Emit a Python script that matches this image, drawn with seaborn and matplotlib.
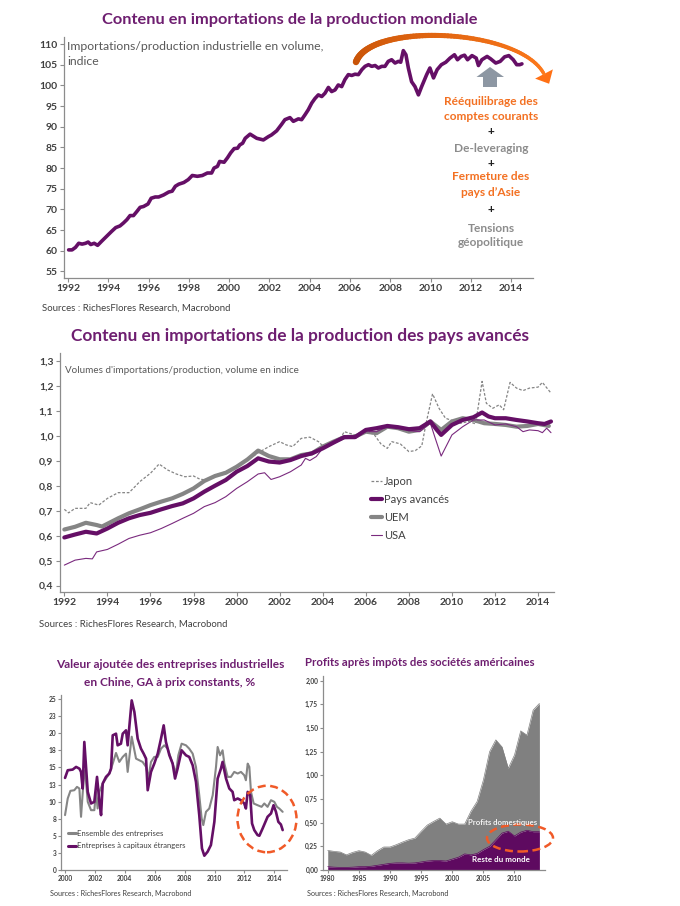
import numpy as np
import pandas as pd
import matplotlib
matplotlib.use("Agg")
import matplotlib.pyplot as plt
import seaborn as sns
from matplotlib.collections import LineCollection
from matplotlib.patches import Polygon, Ellipse
from matplotlib.lines import Line2D
from matplotlib.colors import to_rgb

# ---------------- DATA ----------------
# Panel 1 : import content of world production (index)
world_t = [1992.03,1992.2,1992.37,1992.53,1992.7,1992.87,1993.0,1993.13,1993.3,1993.47,1993.67,1993.92,
           1994.17,1994.37,1994.58,1994.75,1994.92,1995.08,1995.25,1995.42,1995.58,1995.75,1995.97,
           1996.13,1996.33,1996.5,1996.75,1997.0,1997.17,1997.33,1997.5,1997.75,1997.97,1998.17,1998.42,
           1998.67,1998.92,1999.13,1999.25,1999.42,1999.53,1999.75,1999.92,2000.08,2000.25,2000.42,2000.53,
           2000.67,2000.8,
           2001.04,2001.37,2001.7,2001.95,2002.1,2002.36,2002.61,2002.77,2003.02,2003.19,2003.44,2003.6,
           2003.77,2003.93,2004.1,2004.26,2004.43,2004.6,2004.76,2004.93,2005.09,2005.26,2005.42,2005.59,
           2005.75,2005.92,2006.09,2006.25,2006.42,2006.59,2006.75,2006.92,2007.08,2007.25,2007.41,2007.58,
           2007.74,2007.9,2008.07,2008.24,2008.4,2008.52,2008.65,2008.78,2008.9,2009.06,2009.23,2009.4,
           2009.56,2009.81,2009.97,
           2010.15,2010.33,2010.54,2010.76,2010.97,2011.19,2011.34,2011.52,2011.69,2011.84,2012.06,2012.27,
           2012.38,2012.55,2012.81,2012.99,2013.24,2013.46,2013.68,2013.89,2014.11,2014.28,2014.43,2014.54]
world_v = [60.2,60.2,60.8,61.8,61.6,61.8,62.1,61.5,61.8,61.3,62.3,63.5,
           64.7,65.6,66.0,66.7,67.5,68.5,68.5,69.5,70.5,70.7,71.3,
           72.7,73.0,73.0,73.5,74.2,74.4,75.6,76.1,76.5,77.2,78.2,78.0,
           78.2,78.8,78.8,80.0,80.4,81.6,81.4,82.5,83.7,84.7,84.8,85.6,
           86.0,87.2,
           88.2,87.2,86.8,87.6,88.0,89.0,90.6,91.7,92.2,91.3,91.9,91.7,
           92.9,94.1,95.7,96.8,97.7,97.3,98.1,99.5,98.5,98.9,100.1,99.7,
           101.4,102.6,102.4,102.7,102.6,103.8,104.6,105.0,104.6,104.8,104.2,104.6,
           104.6,105.8,106.2,105.4,105.8,105.6,108.4,107.4,104.2,100.9,99.7,97.7,
           99.7,102.6,104.2,
           101.8,103.8,105.0,105.6,106.6,107.4,106.2,107.0,107.3,106.2,107.2,106.6,
           104.8,106.2,107.0,106.4,105.4,105.8,106.9,107.2,106.2,105.0,105.0,105.2]
world_xticks = list(range(1992, 2015, 2))
world_yticks = list(range(55, 111, 5))

# Panel 2 : advanced countries
avances_t = [1992.0,1992.5,1993.0,1993.5,1994.0,1994.5,1995.0,1995.5,1996.0,1996.5,1997.0,1997.5,1998.0,
             1998.5,1999.0,1999.5,2000.0,2000.5,2001.0,2001.5,2002.0,2002.5,2003.0,2003.5,2004.0,2004.5,
             2005.0,2005.5,2006.0,2006.5,2007.0,2007.5,2008.0,2008.5,2009.0,2009.3,2009.5,2010.0,2010.5,
             2011.0,2011.4,2011.7,2012.0,2012.5,2013.0,2013.5,2014.0,2014.3,2014.6]
avances_v = [0.593,0.605,0.616,0.609,0.629,0.652,0.670,0.683,0.692,0.706,0.719,0.730,0.750,
             0.777,0.801,0.824,0.857,0.880,0.911,0.898,0.894,0.904,0.920,0.931,0.951,0.974,
             0.996,0.996,1.025,1.032,1.041,1.036,1.028,1.032,1.059,1.025,1.005,1.045,1.065,
             1.076,1.095,1.079,1.072,1.072,1.065,1.059,1.052,1.049,1.059]
uem_t = [1992.0,1992.5,1993.0,1993.5,1993.75,1994.0,1994.5,1995.0,1995.5,1996.0,1996.5,1997.0,1997.5,
         1998.0,1998.5,1999.0,1999.5,2000.0,2000.5,2001.0,2001.5,2002.0,2002.5,2003.0,2003.5,2004.0,
         2004.5,2005.0,2005.5,2006.0,2006.5,2007.0,2007.5,2008.0,2008.5,2009.0,2009.5,2010.0,2010.5,
         2011.0,2011.5,2012.0,2012.5,2013.0,2013.5,2014.0,2014.5]
uem_v = [0.625,0.636,0.652,0.643,0.637,0.648,0.670,0.690,0.706,0.723,0.737,0.750,0.768,
         0.790,0.820,0.840,0.853,0.877,0.906,0.942,0.920,0.907,0.907,0.924,0.931,0.958,
         0.978,0.996,0.998,1.018,1.012,1.038,1.032,1.018,1.025,1.059,1.025,1.059,1.072,
         1.065,1.052,1.049,1.045,1.038,1.041,1.049,1.041]
usa_t = [1992.0,1992.5,1993.0,1993.3,1993.5,1994.0,1994.5,1995.0,1995.5,1996.0,1996.5,1997.0,1997.5,
         1998.0,1998.5,1999.0,1999.5,2000.0,2000.5,2001.0,2001.3,2001.6,2002.0,2002.5,2003.0,2003.2,
         2003.4,2003.7,2004.0,2004.5,2005.0,2005.5,2006.0,2006.5,2007.0,2007.5,2008.0,2008.5,2009.0,
         2009.2,2009.5,2009.8,2010.0,2010.5,2011.0,2011.5,2012.0,2012.5,2013.0,2013.3,2013.6,2014.0,
         2014.2,2014.4,2014.6]
usa_v = [0.482,0.502,0.509,0.507,0.535,0.545,0.566,0.589,0.602,0.612,0.629,0.649,0.670,
         0.690,0.717,0.733,0.757,0.790,0.817,0.848,0.853,0.826,0.837,0.857,0.884,0.911,
         0.902,0.918,0.951,0.974,0.996,0.998,1.018,1.018,1.038,1.038,1.022,1.018,1.052,
         0.998,0.920,0.971,1.005,1.038,1.065,1.065,1.045,1.049,1.038,1.018,1.025,1.022,
         1.014,1.032,1.014]
japon_t = [1992.0,1992.2,1992.5,1993.0,1993.2,1993.6,1994.0,1994.5,1995.0,1995.2,1995.5,1996.0,1996.4,
           1996.8,1997.2,1997.6,1998.0,1998.3,1998.6,1999.0,1999.5,2000.0,2000.5,2001.0,2001.5,2002.0,
           2002.3,2002.6,2003.0,2003.4,2003.8,2004.0,2004.4,2004.8,2005.0,2005.5,2006.0,2006.4,2006.7,
           2007.0,2007.2,2007.6,2008.0,2008.3,2008.6,2008.8,2009.1,2009.4,2009.7,2010.0,2010.4,2010.8,
           2011.1,2011.4,2011.6,2011.9,2012.2,2012.4,2012.7,2013.0,2013.3,2013.6,2014.0,2014.2,2014.6]
japon_v = [0.706,0.692,0.710,0.710,0.733,0.723,0.750,0.773,0.773,0.790,0.817,0.851,0.888,
           0.864,0.848,0.837,0.840,0.827,0.824,0.844,0.857,0.877,0.904,0.933,0.958,0.978,
           0.965,0.958,0.991,0.996,0.978,0.961,0.971,0.987,1.018,1.005,1.022,1.005,0.969,
           0.951,0.978,0.969,0.938,0.942,0.961,1.052,1.170,1.112,1.072,1.063,1.052,1.059,
           1.049,1.220,1.132,1.112,1.126,1.106,1.216,1.193,1.183,1.193,1.197,1.216,1.173]
adv_yticks = [0.4,0.5,0.6,0.7,0.8,0.9,1.0,1.1,1.2,1.3]

# Panel 3 : China industrial value added, % y/y
etr_t = [2000.00,2000.18,2000.51,2000.74,2000.96,2001.07,2001.18,2001.29,2001.52,2001.74,2001.96,2002.14,
         2002.30,2002.41,2002.52,2002.74,2002.96,2003.08,2003.19,2003.41,2003.52,2003.74,2003.86,2004.08,
         2004.19,2004.46,2004.64,2004.86,2005.08,2005.26,2005.42,2005.53,2005.75,2005.97,2006.20,2006.42,
         2006.60,2006.75,2006.98,2007.20,2007.36,2007.53,2007.80,2008.09,2008.31,2008.54,2008.76,2008.98,
         2009.16,2009.32,2009.54,2009.76,2009.99,2010.21,2010.43,2010.54,2010.77,2010.99,2011.21,2011.32,
         2011.55,2011.77,2011.99,2012.10,2012.22,2012.39,2012.51,2012.66,2012.88,2013.00,2013.22,2013.55,
         2013.78,2013.95,2014.11,2014.27,2014.44,2014.56]
etr_v = [13.47,14.59,14.69,15.08,14.83,14.35,11.92,18.73,11.43,9.73,9.97,13.62,
         9.97,8.03,12.65,13.62,14.11,14.83,19.70,19.94,18.24,18.48,19.94,20.43,
         18.24,24.81,23.10,19.21,17.75,17.02,16.29,11.67,14.35,15.56,17.02,19.21,
         21.16,18.73,16.78,15.56,13.38,14.83,17.51,16.78,16.54,15.32,12.89,8.03,
         3.16,2.09,2.68,3.65,7.05,13.38,14.83,15.81,13.38,11.92,11.43,10.21,
         10.46,10.21,9.73,9.00,11.43,10.94,6.81,5.84,5.11,5.01,6.08,7.78,
         8.27,9.48,8.51,7.05,6.66,5.84]
ens_t = [2000.00,2000.18,2000.36,2000.62,2000.80,2000.96,2001.07,2001.25,2001.34,2001.52,2001.74,2001.96,
         2002.07,2002.18,2002.30,2002.52,2002.74,2002.96,2003.19,2003.41,2003.63,2003.86,2004.08,2004.19,
         2004.46,2004.75,2004.97,2005.19,2005.42,2005.57,2005.75,2005.97,2006.20,2006.42,2006.64,2006.87,
         2007.09,2007.31,2007.42,2007.58,2007.80,2008.09,2008.31,2008.54,2008.76,2008.98,2009.14,2009.25,
         2009.43,2009.65,2009.88,2010.10,2010.21,2010.37,2010.54,2010.66,2010.88,2011.10,2011.32,2011.55,
         2011.77,2011.99,2012.10,2012.22,2012.33,2012.44,2012.62,2012.88,2013.15,2013.33,2013.55,2013.78,
         2014.00,2014.18,2014.33,2014.56]
ens_v = [8.03,10.46,11.58,11.67,12.16,11.92,7.78,13.38,14.59,9.97,8.75,8.75,
         11.43,9.00,11.43,12.65,13.38,14.11,15.56,17.12,15.81,16.54,17.02,14.35,
         19.50,16.29,16.05,15.81,15.08,13.38,15.81,16.54,16.54,17.75,18.24,17.75,
         16.29,14.83,14.11,16.78,18.48,18.24,17.75,17.02,15.08,10.94,7.54,6.57,
         8.51,9.00,10.94,15.08,18.00,16.78,17.51,15.56,13.62,13.62,14.35,14.11,
         14.35,13.86,13.13,15.56,15.08,11.43,9.73,9.48,9.24,9.73,9.24,10.21,
         9.97,9.24,9.00,8.51]
china_xticks = list(range(2000, 2015, 2))
china_yticks = [0, 2.5, 5, 7.5, 10, 12.5, 15, 17.5, 20, 22.5, 25]
china_ylabels = ["0", "3", "5", "8", "10", "13", "15", "18", "20", "23", "25"]

# Panel 4 : US corporate profits after tax
profit_years = list(range(1980, 2015))
profits_totaux = [0.207,0.197,0.19,0.16,0.186,0.204,0.19,0.155,0.204,0.243,0.243,0.267,0.295,0.32,0.337,
                  0.408,0.475,0.513,0.548,0.485,0.51,0.485,0.485,0.62,0.724,0.95,1.25,1.375,1.30,1.075,
                  1.215,1.47,1.425,1.69,1.76]
reste_du_monde = [0.035,0.03,0.027,0.027,0.03,0.035,0.035,0.04,0.05,0.06,0.07,0.075,0.075,0.072,0.075,
                  0.085,0.095,0.10,0.10,0.095,0.115,0.135,0.17,0.16,0.175,0.215,0.25,0.32,0.39,0.41,
                  0.36,0.40,0.42,0.405,0.405]
profit_xticks = list(range(1980, 2011, 5))
profit_yticks = [0.0, 0.25, 0.5, 0.75, 1.0, 1.25, 1.5, 1.75, 2.0]

# ---------------- STYLE ----------------
sns.set_theme(style="white")
plt.rcParams["font.family"] = ["Lato", "DejaVu Sans"]

PURPLE = "#650F66"
TITLE = "#6E1E70"
GRAY = "#858585"
TXT = "#404040"
ORANGE_T = "#F37021"
RED_DASH = "#F05A28"

W, H = 680, 906
fig = plt.figure(figsize=(6.8, 9.06), dpi=100)
fig.patch.set_facecolor("white")


def fx(x):
    return x / W


def fy(y):
    return 1 - y / H


def add_ax(l, t, r, b):
    return fig.add_axes([fx(l), fy(b), (r - l) / W, (b - t) / H])


def style_ax(ax, size, xt, xl, yt, yl):
    sns.despine(ax=ax)
    for s in ["left", "bottom"]:
        ax.spines[s].set_color("#8C8C8C")
        ax.spines[s].set_linewidth(0.9)
    ax.set_facecolor("none")
    ax.grid(False)
    ax.set_xlabel("")
    ax.set_ylabel("")
    ax.set_xticks(xt)
    ax.set_xticklabels(xl, fontweight="bold")
    ax.set_yticks(yt)
    ax.set_yticklabels(yl, fontweight="bold")
    ax.tick_params(axis="both", which="both", direction="out", length=3, width=0.8,
                   color="#8C8C8C", labelsize=size, labelcolor=TXT, pad=1.5,
                   left=True, bottom=True)


def ftext(x, y, s, **kw):
    fig.text(fx(x), fy(y), s, **kw)


# ---------------- PANEL 1 ----------------
ax1 = add_ax(64, 37, 533, 278)
sns.lineplot(x=world_t, y=world_v, ax=ax1, color=PURPLE, linewidth=2.6)
ax1.set_xlim(1991.8, 2015.09)
ax1.set_ylim(53.4, 111.7)
style_ax(ax1, 7.5, world_xticks, [str(v) for v in world_xticks],
         world_yticks, [str(v) for v in world_yticks])

ftext(290, 20, "Contenu en importations de la production mondiale", ha="center", va="center",
      fontsize=11.8, fontweight="bold", color=TITLE)
ftext(67, 46.5, "Importations/production industrielle en volume,", ha="left", va="center",
      fontsize=8.8, color="#595959")
ftext(67, 61.5, "indice", ha="left", va="center", fontsize=8.8, color="#595959")
ftext(42, 308, "Sources : RichesFlores Research, Macrobond", ha="left", va="center",
      fontsize=6.9, color=TXT)

ann = [("Rééquilibrage des", 101.7, ORANGE_T, "bold"),
       ("comptes courants", 117, ORANGE_T, "bold"),
       ("+", 131, "#202020", "bold"),
       ("De-leveraging", 148, "#8C8C8C", "bold"),
       ("+", 163, "#202020", "bold"),
       ("Fermeture des", 176, ORANGE_T, "bold"),
       ("pays d\u2019Asie", 192, ORANGE_T, "bold"),
       ("+", 209, "#202020", "bold"),
       ("Tensions", 228, "#8C8C8C", "bold"),
       ("géopolitique", 243, "#8C8C8C", "bold")]
for s, y, c, w in ann:
    ftext(491, y, s, ha="center", va="center", fontsize=8.6, color=c, fontweight=w)

# gray up arrow
garrow = [(490, 67), (504, 77), (497, 77), (497, 87), (483, 87), (483, 77), (476.5, 77)]
fig.add_artist(Polygon([(fx(a), fy(b)) for a, b in garrow], closed=True,
                       transform=fig.transFigure, facecolor="#8D97A3", edgecolor="none"))

# orange curved arrow (cubic bezier)
P = np.array([[356, 62], [370, 22], [520, 28], [544, 74]], dtype=float)
ts = np.linspace(0, 1, 80)
pts = ((1 - ts) ** 3)[:, None] * P[0] + (3 * (1 - ts) ** 2 * ts)[:, None] * P[1] + \
      (3 * (1 - ts) * ts ** 2)[:, None] * P[2] + (ts ** 3)[:, None] * P[3]
segs = [[(fx(pts[i, 0]), fy(pts[i, 1])), (fx(pts[i + 1, 0]), fy(pts[i + 1, 1]))] for i in range(len(pts) - 1)]
c0, c1 = np.array(to_rgb("#C85408")), np.array(to_rgb("#FF7A1C"))
cols = [tuple(c0 + (c1 - c0) * t) for t in ts[:-1]]
lws = [(6.5 - 3.2 * t) * 0.72 for t in ts[:-1]]
lc = LineCollection(segs, colors=cols, linewidths=lws, transform=fig.transFigure, capstyle="round")
fig.add_artist(lc)
d = P[3] - P[2]
d = d / np.linalg.norm(d)
nrm = np.array([-d[1], d[0]])
tip = P[3] + d * 11
b1 = P[3] + nrm * 10
b2 = P[3] - nrm * 10
fig.add_artist(Polygon([(fx(p[0]), fy(p[1])) for p in [tip, b1, b2]], closed=True,
                       transform=fig.transFigure, facecolor="#FF7014", edgecolor="none"))

# ---------------- PANEL 2 ----------------
ax2 = add_ax(59.6, 353, 554, 592)
sns.lineplot(x=uem_t, y=uem_v, ax=ax2, color=GRAY, linewidth=3.0)
sns.lineplot(x=usa_t, y=usa_v, ax=ax2, color="#7A2A7E", linewidth=0.8)
sns.lineplot(x=japon_t, y=japon_v, ax=ax2, color=GRAY, linewidth=0.9, linestyle=(0, (2.2, 1.4)))
sns.lineplot(x=avances_t, y=avances_v, ax=ax2, color=PURPLE, linewidth=3.0)
ax2.set_xlim(1991.78, 2014.74)
ax2.set_ylim(0.374, 1.334)
style_ax(ax2, 7.5, world_xticks, [str(v) for v in world_xticks],
         adv_yticks, [f"{v:.1f}".replace(".", ",") for v in adv_yticks])

handles = [Line2D([], [], color=GRAY, lw=0.9, ls=(0, (2.2, 1.4))),
           Line2D([], [], color=PURPLE, lw=3.0),
           Line2D([], [], color=GRAY, lw=3.0),
           Line2D([], [], color="#7A2A7E", lw=0.8)]
leg = ax2.legend(handles, ["Japon", "Pays avancés", "UEM", "USA"], loc="upper left",
                 bbox_to_anchor=(fx(371), fy(476)), bbox_transform=fig.transFigure,
                 frameon=False, fontsize=8, handlelength=1.0, handletextpad=0.2,
                 labelspacing=0.62, borderpad=0, borderaxespad=0)
for t in leg.get_texts():
    t.set_color(TXT)

ftext(300, 336, "Contenu en importations de la production des pays avancés", ha="center",
      va="center", fontsize=12.4, fontweight="bold", color=TITLE)
ftext(65, 370.5, "Volumes d'importations/production, volume en indice", ha="left", va="center",
      fontsize=7.1, color="#595959")
ftext(39, 624, "Sources : RichesFlores Research, Macrobond", ha="left", va="center",
      fontsize=6.9, color=TXT)

# ---------------- PANEL 3 ----------------
ax3 = add_ax(61, 695, 287, 870)
sns.lineplot(x=ens_t, y=ens_v, ax=ax3, color=GRAY, linewidth=1.5, label="Ensemble des entreprises")
sns.lineplot(x=etr_t, y=etr_v, ax=ax3, color=PURPLE, linewidth=1.9,
             label="Entreprises à capitaux étrangers")
ax3.set_xlim(1999.73, 2014.85)
ax3.set_ylim(0, 25.6)
style_ax(ax3, 4.8, china_xticks, [str(v) for v in china_xticks], china_yticks, china_ylabels)
ax3.tick_params(length=2)
leg3 = ax3.legend(loc="upper left", bbox_to_anchor=(fx(67.5), fy(830)), bbox_transform=fig.transFigure,
                  frameon=False, fontsize=5.6, handlelength=1.1, handletextpad=0.15,
                  labelspacing=0.7, borderpad=0, borderaxespad=0)
for t in leg3.get_texts():
    t.set_color(TXT)
for l in leg3.get_lines():
    l.set_linewidth(2.2)

ftext(170, 665, "Valeur ajoutée des entreprises industrielles", ha="center", va="center",
      fontsize=8.6, fontweight="bold", color=TITLE)
ftext(170, 682, "en Chine, GA à prix constants, %", ha="center", va="center",
      fontsize=8.6, fontweight="bold", color=TITLE)
ftext(50, 893, "Sources : RichesFlores Research, Macrobond", ha="left", va="center",
      fontsize=5.2, color=TXT)
fig.add_artist(Ellipse((fx(267), fy(819)), 59 / W, 66.5 / H, transform=fig.transFigure,
                       facecolor="none", edgecolor=RED_DASH, linewidth=1.8,
                       linestyle=(0, (3.2, 1.8))))

# ---------------- PANEL 4 ----------------
ax4 = add_ax(323, 676, 545, 870)
df4 = pd.DataFrame({"annee": profit_years, "total": profits_totaux, "reste": reste_du_monde})
ax4.fill_between(df4["annee"], df4["reste"], df4["total"], color="#808080", linewidth=0)
ax4.fill_between(df4["annee"], 0, df4["reste"], color="#5E0A60", linewidth=0)
sns.lineplot(data=df4, x="annee", y="total", ax=ax4, color="#808080", linewidth=0.5)
sns.lineplot(data=df4, x="annee", y="reste", ax=ax4, color="#5E0A60", linewidth=0.5)
ax4.set_xlim(1979.24, 2014.9)
ax4.set_ylim(0, 2.05)
style_ax(ax4, 4.8, profit_xticks, [str(v) for v in profit_xticks],
         profit_yticks, [f"{v:.2f}".replace(".", ",") for v in profit_yticks])
ax4.tick_params(length=2)

ftext(305, 663, "Profits après impôts des sociétés américaines", ha="left", va="center",
      fontsize=8.2, fontweight="bold", color=TITLE)
ftext(503, 823, "Profits domestiques", ha="center", va="center", fontsize=5.6,
      color="#F2F2F2", fontweight="bold")
ftext(501, 860, "Reste du monde", ha="center", va="center", fontsize=5.8,
      color="white", fontweight="bold")
ftext(307, 893, "Sources : RichesFlores Research, Macrobond", ha="left", va="center",
      fontsize=5.2, color=TXT)
fig.add_artist(Ellipse((fx(520), fy(838)), 66 / W, 27 / H, transform=fig.transFigure,
                       facecolor="none", edgecolor=RED_DASH, linewidth=1.8,
                       linestyle=(0, (3.2, 1.8))))

fig.savefig("out.png", dpi=100, facecolor="white")
